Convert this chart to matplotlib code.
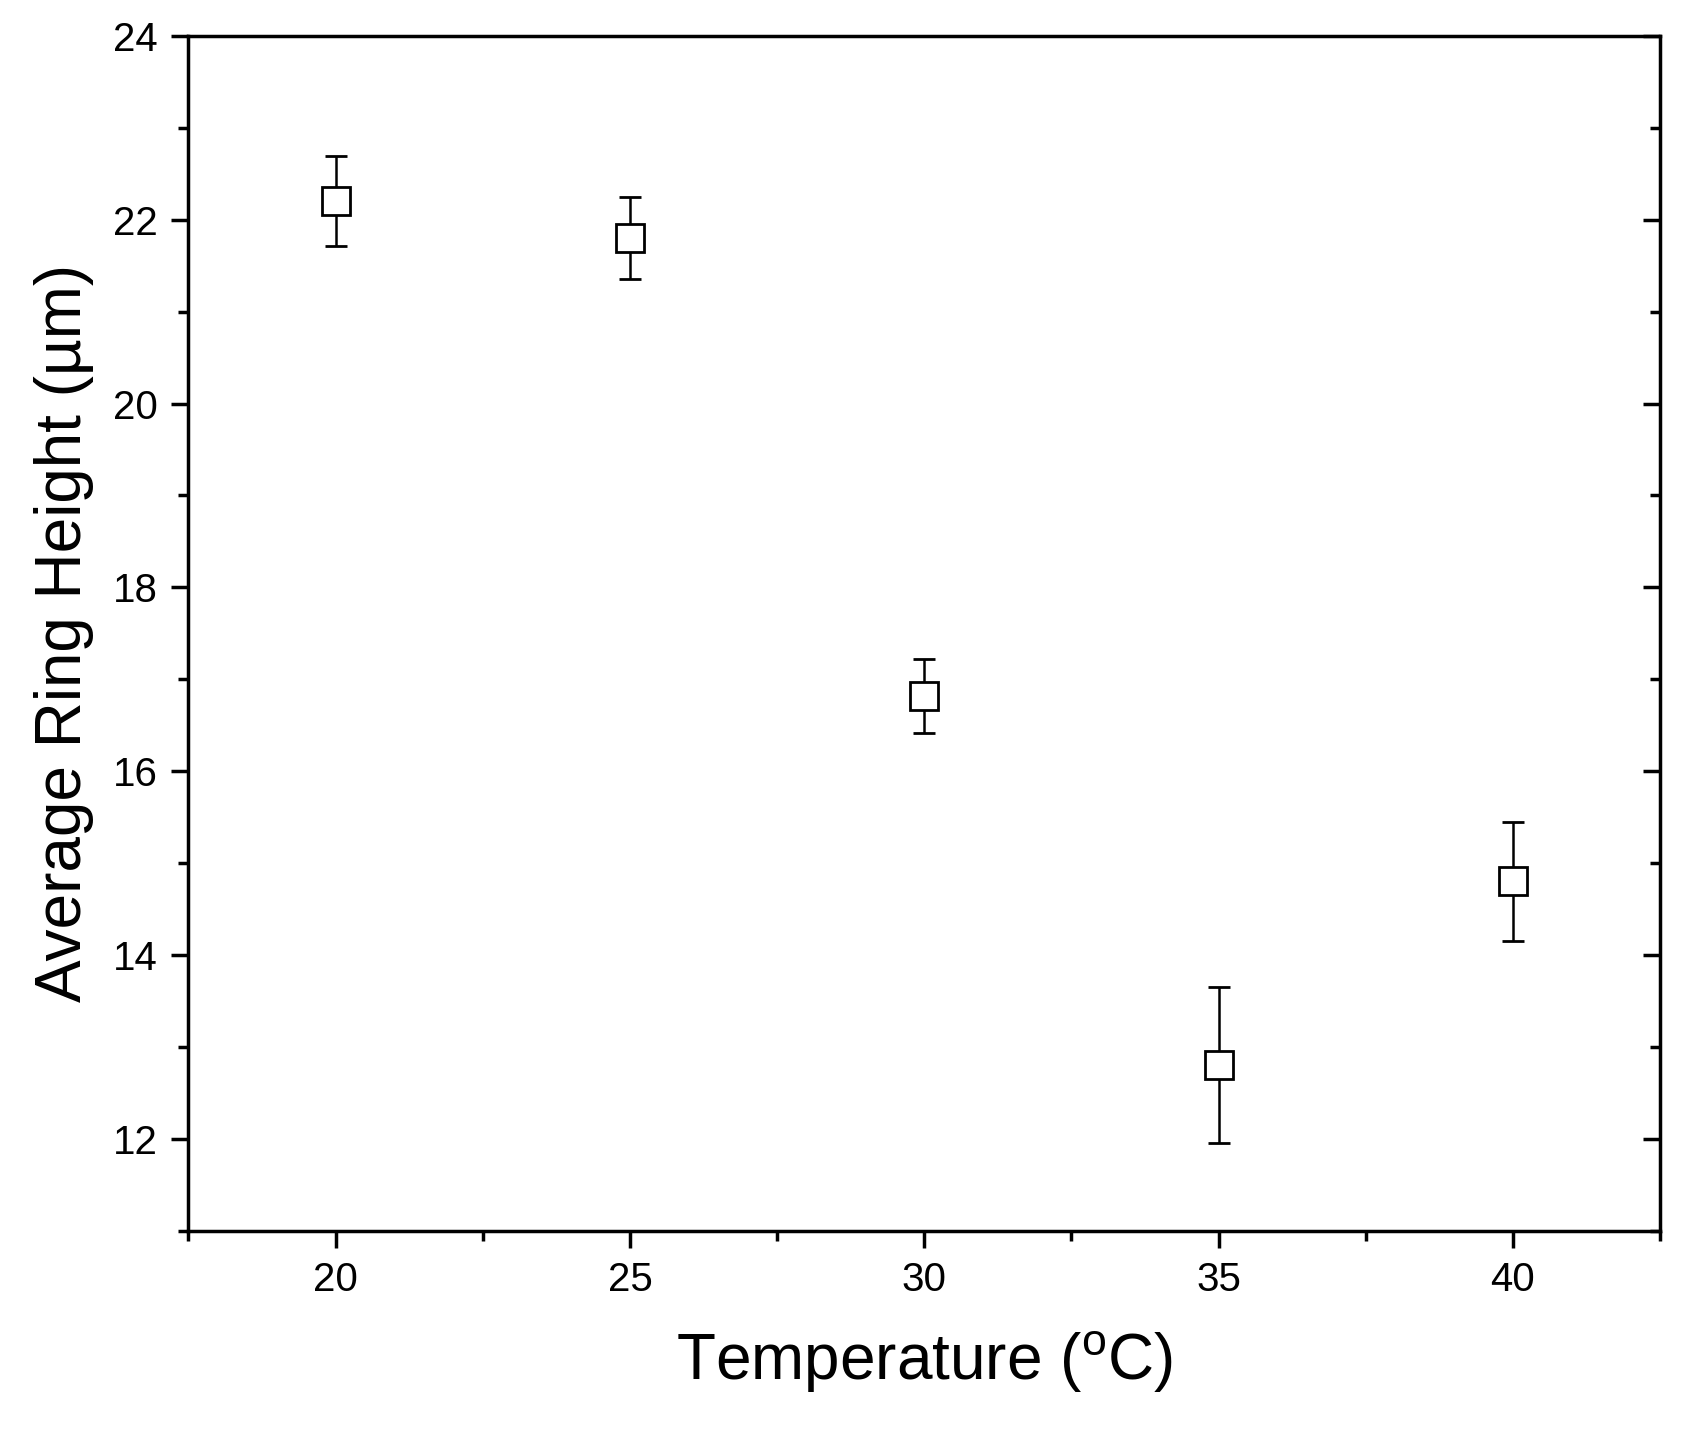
import matplotlib.pyplot as plt

plt.rcParams['font.family'] = ['Liberation Sans', 'DejaVu Sans']

temps = [20, 25, 30, 35, 40]
heights = [22.2, 21.8, 16.82, 12.8, 14.8]
errors = [0.49, 0.45, 0.4, 0.85, 0.65]

fig = plt.figure(figsize=(16.82, 14.36), dpi=100)
ax = fig.add_axes([0.112, 0.143, 0.875, 0.832])

ax.errorbar(temps, heights, yerr=errors, fmt='s', mfc='white', mec='black',
            ms=20, mew=2, ecolor='black', elinewidth=1.8, capsize=8, capthick=1.8)

ax.set_xlim(17.5, 42.5)
ax.set_ylim(11, 24)
ax.set_xticks([20, 25, 30, 35, 40])
ax.set_xticks([17.5, 22.5, 27.5, 32.5, 37.5, 42.5], minor=True)
ax.set_yticks([12, 14, 16, 18, 20, 22, 24])
ax.set_yticks([11, 13, 15, 17, 19, 21, 23], minor=True)

for s in ax.spines.values():
    s.set_linewidth(2.5)
ax.tick_params(which='major', direction='out', length=12, width=2.5, labelsize=29, pad=10)
ax.tick_params(which='minor', direction='out', length=7, width=2.5)
ax.tick_params(which='both', right=True, top=False)
ax.tick_params(axis='y', which='both', direction='out')
# right side ticks point inward
for t in ax.yaxis.get_major_ticks() + ax.yaxis.get_minor_ticks():
    t.tick2line.set_marker(0)

ax.set_xlabel('Temperature ($\\mathregular{^o}$C)', fontsize=46, labelpad=22)
ax.set_ylabel('Average Ring Height (µm)', fontsize=46, labelpad=14)

fig.savefig('out.png')
